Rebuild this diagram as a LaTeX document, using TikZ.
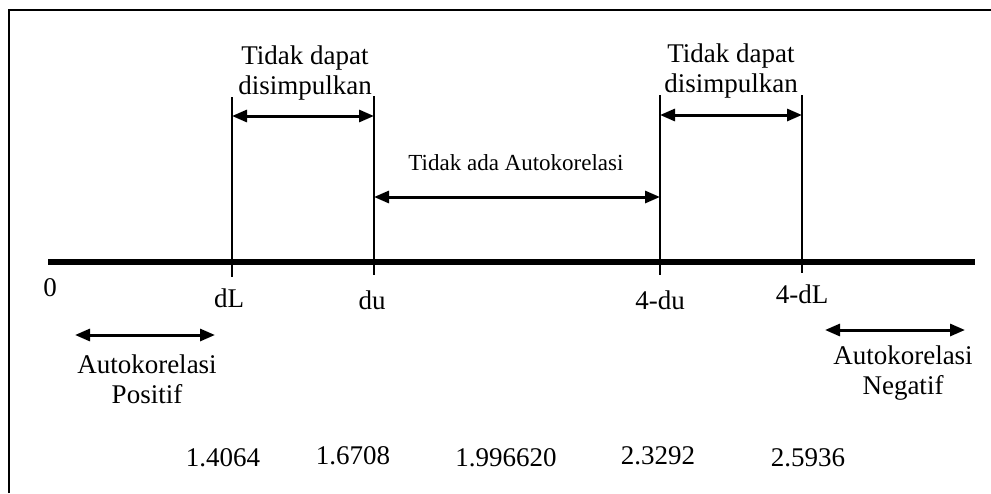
\documentclass[tikz,border=0pt]{standalone}
\usepackage{fontspec}
\setmainfont{Liberation Serif}
\usetikzlibrary{arrows.meta}
\tikzset{
  lbl/.style={inner sep=0pt, align=center, font=\fontsize{27}{30}\selectfont},
  smalllbl/.style={inner sep=0pt, align=center, font=\fontsize{23}{26}\selectfont},
  tickline/.style={line width=2pt},
  axisline/.style={line width=5.5pt},
  dbl/.style={line width=3pt, {Triangle[length=15pt,width=12pt]}-{Triangle[length=15pt,width=12pt]}, shorten <=0pt, shorten >=0pt},
}
\begin{document}
\begin{tikzpicture}[x=1pt,y=-1pt]
\useasboundingbox (0,0) rectangle (991,493);
% frame (only top and left edges visible)
\coordinate (fbl) at (9,493);
\coordinate (ftl) at (9,10);
\coordinate (ftr) at (991,10);
\draw[line width=1.2pt] (fbl) -- (ftl) -- (ftr);
% axis
\coordinate (ax0) at (48,262);
\coordinate (ax1) at (975,262);
\draw[axisline] (ax0) -- (ax1);
% tick lines
\coordinate (dLt) at (232,97);  \coordinate (dLb) at (232,277);
\coordinate (dut) at (374,96);  \coordinate (dub) at (374,275);
\coordinate (udt) at (660,95);  \coordinate (udb) at (660,275);
\coordinate (uLt) at (802,95);  \coordinate (uLb) at (802,273);
\draw[tickline] (dLt) -- (dLb);
\draw[tickline] (dut) -- (dub);
\draw[tickline] (udt) -- (udb);
\draw[tickline] (uLt) -- (uLb);
% arrows
\coordinate (a1l) at (232,116); \coordinate (a1r) at (374,116);
\coordinate (a2l) at (660,115); \coordinate (a2r) at (802,115);
\coordinate (a3l) at (374,197); \coordinate (a3r) at (660,197);
\coordinate (a4l) at (75,335);  \coordinate (a4r) at (215,335);
\coordinate (a5l) at (825,330); \coordinate (a5r) at (965,330);
\draw[dbl] (a1l) -- (a1r);
\draw[dbl] (a2l) -- (a2r);
\draw[dbl] (a3l) -- (a3r);
\draw[dbl] (a4l) -- (a4r);
\draw[dbl] (a5l) -- (a5r);
% top labels
\node[lbl] (tdl) at (305,73) {Tidak dapat\\disimpulkan};
\node[lbl] (tdr) at (731,71) {Tidak dapat\\disimpulkan};
\node[smalllbl] (tada) at (516,163) {Tidak ada Autokorelasi};
% tick labels
\node[lbl] (l0) at (50,288) {0};
\node[lbl] (ldL) at (229,298) {dL};
\node[lbl] (ldu) at (372,300) {du};
\node[lbl] (l4du) at (660,300) {4-du};
\node[lbl] (l4dL) at (802,294) {4-dL};
% bottom labels
\node[lbl] (pos) at (147,379) {Autokorelasi\\Positif};
\node[lbl] (neg) at (903,373) {Autokorelasi\\Negatif};
% numbers
\node[lbl] (n1) at (223,458) {1.4064};
\node[lbl] (n2) at (353,456) {1.6708};
\node[lbl] (n3) at (506,458) {1.996620};
\node[lbl] (n4) at (658,456) {2.3292};
\node[lbl] (n5) at (808,458) {2.5936};
\end{tikzpicture}
\end{document}
